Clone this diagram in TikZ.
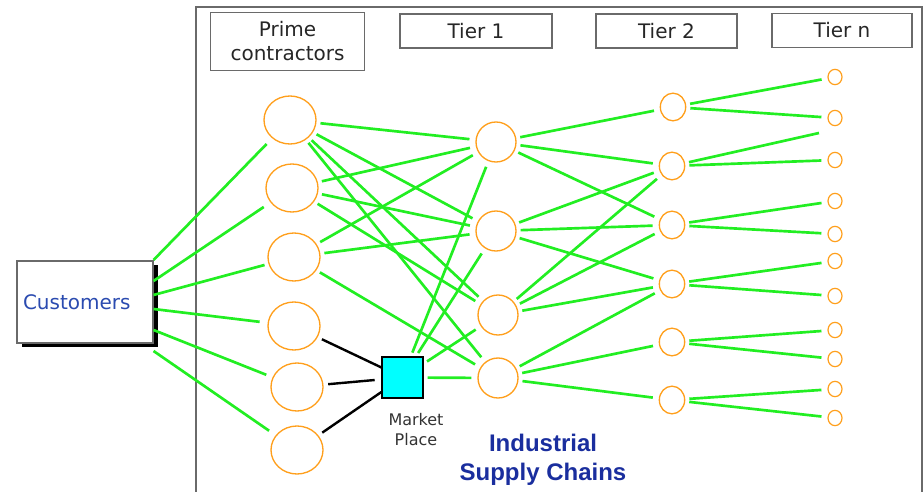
\documentclass[tikz,border=0pt]{standalone}
\usepackage{fontspec}
\setmainfont{DejaVu Sans}
\newfontfamily\arialfont{Liberation Sans}
\usetikzlibrary{shapes.geometric,shadows}
\definecolor{linkgreen}{HTML}{22EE22}
\definecolor{nodeorange}{HTML}{FF9F1C}
\definecolor{custblue}{HTML}{2B4BB0}
\definecolor{chainblue}{HTML}{1A2E9E}
\definecolor{framegray}{HTML}{6A6A6A}
\definecolor{marketcyan}{RGB}{0,255,255}
\begin{document}
\begin{tikzpicture}[x=0.75pt,y=-0.75pt,
  tierbox/.style={draw=framegray,line width=0.8pt,minimum height=25.5pt,inner sep=0pt,
    text=black!85,font=\fontsize{15}{18}\selectfont},
  prime/.style={ellipse,draw=nodeorange,line width=1pt,minimum width=39pt,minimum height=36pt,inner sep=0pt},
  tierone/.style={circle,draw=nodeorange,line width=1pt,minimum size=30pt,inner sep=0pt},
  tiertwo/.style={ellipse,draw=nodeorange,line width=1pt,minimum width=19pt,minimum height=20.75pt,inner sep=0pt},
  tiern/.style={ellipse,draw=nodeorange,line width=0.9pt,minimum width=10.5pt,minimum height=11.5pt,inner sep=0pt},
  link/.style={draw=linkgreen,line width=2pt,shorten <=3pt,shorten >=4.5pt},
  trade/.style={draw=black,line width=1.8pt,shorten <=3.5pt}]
		\useasboundingbox (0,0) rectangle (924,492);
		\draw[framegray,line width=1.3pt] (196,492) -- (196,7) -- (922,7) -- (922,492);

		% headings
		\node[tierbox,minimum width=116pt,minimum height=43pt,align=center] (hprime) at (287.5,41.5) {Prime\\contractors};
		\node[tierbox,minimum width=114pt] (htier1) at (476,31) {Tier 1};
		\node[tierbox,minimum width=105.75pt] (htier2) at (666.5,31) {Tier 2};
		\node[tierbox,minimum width=105pt] (htiern) at (842,30.5) {Tier n};

		\node[draw=framegray,fill=white,line width=0.8pt,minimum width=102pt,minimum height=61.5pt,
			inner xsep=4.5pt,text width=93pt,align=left,
			drop shadow={fill=black,opacity=1,shadow xshift=3.75pt,shadow yshift=-3pt},
			text=custblue,font=\fontsize{15}{18}\selectfont] (cust) at (85,302) {Customers};

		% prime contractors
		\node[prime] (p1) at (290,120) {};
		\node[prime] (p2) at (292,188) {};
		\node[prime] (p3) at (294,257) {};
		\node[prime] (p4) at (294,326) {};
		\node[prime] (p5) at (297,387) {};
		\node[prime] (p6) at (297,450) {};

		\node[draw=black,fill=marketcyan,line width=1pt,minimum size=30.75pt,inner sep=0pt] (mp) at (402.5,377.5) {};
		\node[text=black!80,align=center,font=\fontsize{12}{15}\selectfont] (mplabel) at (416,430) {Market\\Place};

		% tier 1
		\node[tierone] (t1) at (496,142) {};
		\node[tierone] (t2) at (496,231) {};
		\node[tierone] (t3) at (498,315) {};
		\node[tierone] (t4) at (498,378) {};

		% tier 2
		\node[tiertwo] (s1) at (673,107) {};
		\node[tiertwo] (s2) at (672,166) {};
		\node[tiertwo] (s3) at (672,225) {};
		\node[tiertwo] (s4) at (672,284) {};
		\node[tiertwo] (s5) at (672,342) {};
		\node[tiertwo] (s6) at (672,400) {};

		% tier n
		\node[tiern] (n1) at (835,77) {};
		\node[tiern] (n2) at (835,118) {};
		\node[tiern] (n3) at (835,160) {};
		\node[tiern] (n4) at (835,201) {};
		\node[tiern] (n5) at (835,234) {};
		\node[tiern] (n6) at (835,261) {};
		\node[tiern] (n7) at (835,296) {};
		\node[tiern] (n8) at (835,330) {};
		\node[tiern] (n9) at (835,359) {};
		\node[tiern] (n10) at (835,389) {};
		\node[tiern] (n11) at (835,418) {};
		\coordinate (loose) at (819,133);

		\node[text=chainblue,align=center,font=\arialfont\bfseries\fontsize{18}{21.75}\selectfont] (chains) at (543,460) {Industrial\\Supply Chains};

		% customers
		\draw[link,shorten <=0pt,shorten >=6pt] ([yshift=31.5pt]cust.east) -- (p1);
		\draw[link,shorten <=0pt,shorten >=6pt] ([yshift=15.75pt]cust.east) -- (p2);
		\draw[link,shorten <=0pt,shorten >=3pt] ([yshift=5.25pt]cust.east) -- (p3);
		\draw[link,shorten <=0pt,shorten >=6pt] ([yshift=-5.25pt]cust.east) -- (p4);
		\draw[link,shorten <=0pt,shorten >=5pt] ([yshift=-21pt]cust.east) -- (p5);
		\draw[link,shorten <=0pt,shorten >=6pt] ([yshift=-36.75pt]cust.east) -- (p6);

		% prime contractors to tier 1
		\draw[link] (p1) -- (t1);
		\draw[link] (p1) -- (t2);
		\draw[link] (p1) -- (t3);
		\draw[link] (p1) -- (t4);
		\draw[link] (p2) -- (t1);
		\draw[link] (p2) -- (t2);
		\draw[link] (p2) -- (t3);
		\draw[link] (p3) -- (t1);
		\draw[link] (p3) -- (t2);
		\draw[link] (p3) -- (t4);

		\draw[trade] (p4) -- (mp);
		\draw[trade,shorten >=5pt] (p5) -- (mp);
		\draw[trade] (p6) -- (mp);
		\draw[link] (mp) -- (t1);
		\draw[link] (mp) -- (t2);
		\draw[link] (mp) -- (t3);
		\draw[link] (mp) -- (t4);

		% tier 1 to tier 2
		\draw[link] (t1) -- (s1);
		\draw[link] (t1) -- (s2);
		\draw[link] (t1) -- (s3);
		\draw[link] (t2) -- (s2);
		\draw[link] (t2) -- (s3);
		\draw[link] (t2) -- (s4);
		\draw[link] (t3) -- (s2);
		\draw[link] (t3) -- (s3);
		\draw[link] (t3) -- (s4);
		\draw[link] (t4) -- (s4);
		\draw[link] (t4) -- (s5);
		\draw[link] (t4) -- (s6);

		% tier 2 to tier n
		\draw[link] (s1) -- (n1);
		\draw[link] (s1) -- (n2);
		\draw[link,shorten >=0pt] (s2) -- (loose);
		\draw[link] (s2) -- (n3);
		\draw[link] (s3) -- (n4);
		\draw[link] (s3) -- (n5);
		\draw[link] (s4) -- (n6);
		\draw[link] (s4) -- (n7);
		\draw[link] (s5) -- (n8);
		\draw[link] (s5) -- (n9);
		\draw[link] (s6) -- (n10);
		\draw[link] (s6) -- (n11);
\end{tikzpicture}
\end{document}
